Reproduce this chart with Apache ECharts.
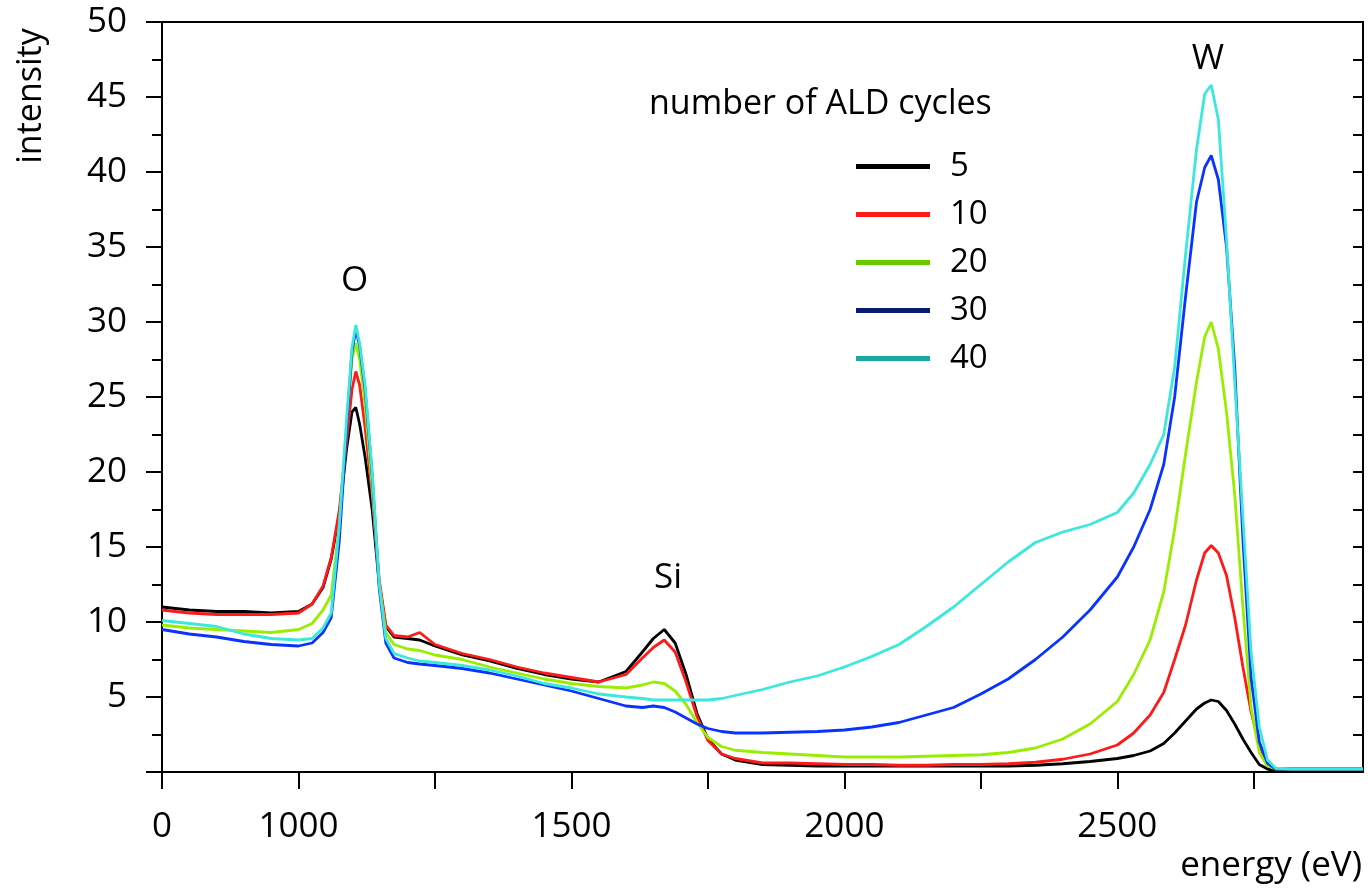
<!DOCTYPE html>
<html lang="en">
<head>
<meta charset="UTF-8">
<title>ALD cycles spectrum</title>
<style>
  html, body { margin: 0; padding: 0; background: #fff; }
  #chart { width: 1368px; height: 889px; }
</style>
</head>
<body>
<div id="chart"></div>
<script src="https://cdn.jsdelivr.net/npm/echarts@6/dist/echarts.min.js"></script>
<script>
// energy grid (eV), shared by all spectra
var energies = [750, 800, 850, 900, 950, 1000, 1025, 1045, 1060, 1075,
    1088, 1098, 1105, 1112, 1122, 1135, 1148, 1160, 1175, 1200,
    1222, 1250, 1300, 1350, 1400, 1450, 1500, 1550, 1600, 1630,
    1650, 1670, 1690, 1710, 1730, 1750, 1775, 1800, 1850, 1900,
    1950, 2000, 2050, 2100, 2150, 2200, 2250, 2300, 2350, 2400,
    2450, 2500, 2530, 2560, 2585, 2605, 2625, 2645, 2660, 2672,
    2685, 2700, 2715, 2730, 2745, 2760, 2775, 2790, 2820, 2950];

var cycles5 = [11.0, 10.8, 10.7, 10.7, 10.6, 10.7, 11.2, 12.3, 14.2, 17.2,
    21.5, 24.0, 24.3, 23.2, 21.0, 17.5, 12.5, 9.7, 9.0, 8.9,
    8.8, 8.4, 7.8, 7.4, 6.9, 6.5, 6.2, 6.0, 6.7, 8.0,
    8.9, 9.5, 8.6, 6.5, 3.9, 2.2, 1.2, 0.8, 0.5, 0.45,
    0.4, 0.4, 0.4, 0.4, 0.4, 0.4, 0.4, 0.4, 0.45, 0.55,
    0.7, 0.9, 1.1, 1.4, 1.9, 2.6, 3.4, 4.2, 4.6, 4.8,
    4.7, 4.1, 3.2, 2.2, 1.3, 0.5, 0.2, 0.1, 0.1, 0.1];

var cycles10 = [10.8, 10.6, 10.5, 10.5, 10.5, 10.6, 11.2, 12.4, 14.3, 17.5,
    22.0, 25.5, 26.7, 25.8, 23.0, 18.5, 12.8, 9.8, 9.1, 9.0,
    9.3, 8.5, 7.9, 7.5, 7.0, 6.6, 6.3, 6.0, 6.5, 7.6,
    8.3, 8.8, 8.0, 6.0, 3.7, 2.1, 1.2, 0.9, 0.6, 0.6,
    0.55, 0.5, 0.5, 0.45, 0.45, 0.5, 0.5, 0.55, 0.65, 0.85,
    1.2, 1.8, 2.6, 3.8, 5.3, 7.5, 9.8, 12.8, 14.6, 15.1,
    14.6, 13.1, 10.3, 7.0, 4.0, 1.8, 0.5, 0.2, 0.2, 0.2];

var cycles20 = [9.8, 9.6, 9.5, 9.4, 9.3, 9.5, 9.9, 10.8, 11.8, 16.5,
    23.0, 27.5, 28.6, 27.5, 24.5, 19.0, 12.5, 9.3, 8.5, 8.2,
    8.1, 7.8, 7.5, 7.0, 6.6, 6.2, 5.9, 5.7, 5.6, 5.8,
    6.0, 5.9, 5.4, 4.5, 3.3, 2.3, 1.7, 1.45, 1.3, 1.2,
    1.1, 1.0, 1.0, 1.0, 1.05, 1.1, 1.15, 1.3, 1.6, 2.2,
    3.2, 4.7, 6.5, 8.8, 12.0, 16.2, 21.2, 26.0, 29.0, 30.0,
    28.2, 24.0, 18.5, 11.0, 4.3, 1.3, 0.4, 0.2, 0.2, 0.2];

var cycles30 = [9.5, 9.2, 9.0, 8.7, 8.5, 8.4, 8.6, 9.3, 10.3, 15.5,
    22.8, 28.0, 29.5, 28.4, 25.5, 19.8, 12.2, 8.6, 7.6, 7.3,
    7.2, 7.1, 6.9, 6.6, 6.2, 5.8, 5.4, 4.9, 4.4, 4.3,
    4.4, 4.3, 4.0, 3.6, 3.2, 2.9, 2.7, 2.6, 2.6, 2.65,
    2.7, 2.8, 3.0, 3.3, 3.8, 4.3, 5.2, 6.2, 7.5, 9.0,
    10.8, 13.0, 15.0, 17.5, 20.5, 25.0, 31.7, 38.0, 40.3, 41.1,
    39.5, 35.0, 27.0, 15.5, 6.3, 2.0, 0.6, 0.2, 0.2, 0.2];

var cycles40 = [10.1, 9.9, 9.7, 9.2, 8.9, 8.8, 8.9, 9.6, 10.6, 16.5,
    23.5, 28.3, 29.8, 28.6, 25.8, 20.0, 12.5, 8.9, 7.9, 7.6,
    7.4, 7.3, 7.1, 6.8, 6.4, 5.9, 5.6, 5.2, 5.0, 4.9,
    4.8, 4.8, 4.8, 4.8, 4.8, 4.8, 4.9, 5.1, 5.5, 6.0,
    6.4, 7.0, 7.7, 8.5, 9.7, 11.0, 12.5, 14.0, 15.3, 16.0,
    16.5, 17.3, 18.6, 20.5, 22.5, 27.0, 34.5, 41.5, 45.2, 45.8,
    43.5, 35.5, 26.0, 17.0, 8.0, 3.0, 0.8, 0.25, 0.2, 0.2];

var seriesNames = ['5', '10', '20', '30', '40'];
var seriesValues = [cycles5, cycles10, cycles20, cycles30, cycles40];
var lineColors = ['#000000', '#ff1a1a', '#99ee00', '#0a33ff', '#3be8dc'];
var legendColors = ['#000000', '#ff1a1a', '#66cc00', '#0a1a6e', '#18a8a0'];

// element labels placed at (energy, intensity)
var peakNames = ['O', 'Si', 'W'];
var peakEnergy = [1103, 1677, 2666];
var peakIntensity = [32.7, 12.9, 47.5];

// the first tick of the energy axis is printed as "0"
var xTickLabels = { 750: '0', 1000: '1000', 1500: '1500', 2000: '2000', 2500: '2500' };

var FONT = '"Open Sans", sans-serif';
var chart = echarts.init(document.getElementById('chart'));

var series = seriesNames.map(function (name, k) {
    return {
        name: name,
        type: 'line',
        showSymbol: false,
        lineStyle: { color: lineColors[k], width: 2.8 },
        itemStyle: { color: lineColors[k] },
        data: energies.map(function (e, i) { return [e, seriesValues[k][i]]; }),
        z: 3 + k
    };
});

series.push({
    name: 'peaks',
    type: 'scatter',
    symbolSize: 0,
    itemStyle: { opacity: 1 },
    data: peakNames.map(function (n, i) { return [peakEnergy[i], peakIntensity[i], n]; }),
    label: {
        show: true,
        position: 'inside',
        formatter: function (p) { return p.value[2]; },
        fontFamily: FONT,
        fontSize: 35,
        color: '#000',
        opacity: 1
    },
    z: 10
});

option = {
    backgroundColor: '#fff',
    animation: false,
    textStyle: { fontFamily: FONT },
    title: {
        text: 'number of ALD cycles',
        left: 649,
        top: 87,
        padding: 0,
        textStyle: { fontFamily: FONT, fontSize: 34, fontWeight: 'normal', color: '#000' }
    },
    legend: {
        orient: 'vertical',
        left: 851,
        top: 145,
        itemWidth: 74,
        itemHeight: 5,
        itemGap: 15,
        icon: 'rect',
        textStyle: { fontFamily: FONT, fontSize: 33, color: '#000', padding: [0, 0, 0, 15] },
        data: seriesNames.map(function (n, i) {
            return { name: n, itemStyle: { color: legendColors[i] } };
        })
    },
    grid: {
        left: 162, right: 5, top: 22, bottom: 117,
        show: true, borderColor: '#000', borderWidth: 2
    },
    xAxis: {
        type: 'value',
        min: 750,
        max: 2950,
        interval: 250,
        axisLine: { lineStyle: { color: '#000', width: 2 } },
        axisTick: { length: 17, lineStyle: { color: '#000', width: 2 } },
        splitLine: { show: false },
        axisLabel: {
            fontFamily: FONT,
            fontSize: 35,
            color: '#000',
            margin: 38,
            showMaxLabel: false,
            formatter: function (v) { return xTickLabels[v] || ''; }
        }
    },
    yAxis: [{
        type: 'value',
        min: 0,
        max: 50,
        interval: 5,
        axisLine: { show: true, lineStyle: { color: '#000', width: 2 } },
        axisTick: { length: 16, lineStyle: { color: '#000', width: 2 } },
        minorTick: { show: true, splitNumber: 2, length: 10, lineStyle: { color: '#000', width: 2 } },
        splitLine: { show: false },
        axisLabel: {
            fontFamily: FONT,
            fontSize: 35,
            color: '#000',
            margin: 35,
            formatter: function (v) { return v === 0 ? '' : v; }
        }
    }, {
        type: 'value',
        position: 'right',
        min: 0,
        max: 50,
        interval: 2.5,
        axisLine: { show: true, lineStyle: { color: '#000', width: 2 } },
        axisTick: { inside: true, length: 10, lineStyle: { color: '#000', width: 2 } },
        splitLine: { show: false },
        axisLabel: { show: false }
    }],
    graphic: [{
        type: 'text',
        x: 31,
        y: 96,
        rotation: Math.PI / 2,
        style: { text: 'intensity', font: '34px "Open Sans"', fill: '#000', textAlign: 'center', textVerticalAlign: 'middle' }
    }, {
        type: 'text',
        x: 1362,
        y: 866,
        style: { text: 'energy (eV)', font: '35px "Open Sans"', fill: '#000', textAlign: 'right', textVerticalAlign: 'middle' }
    }],
    series: series
};

chart.setOption(option, true);
</script>
</body>
</html>
